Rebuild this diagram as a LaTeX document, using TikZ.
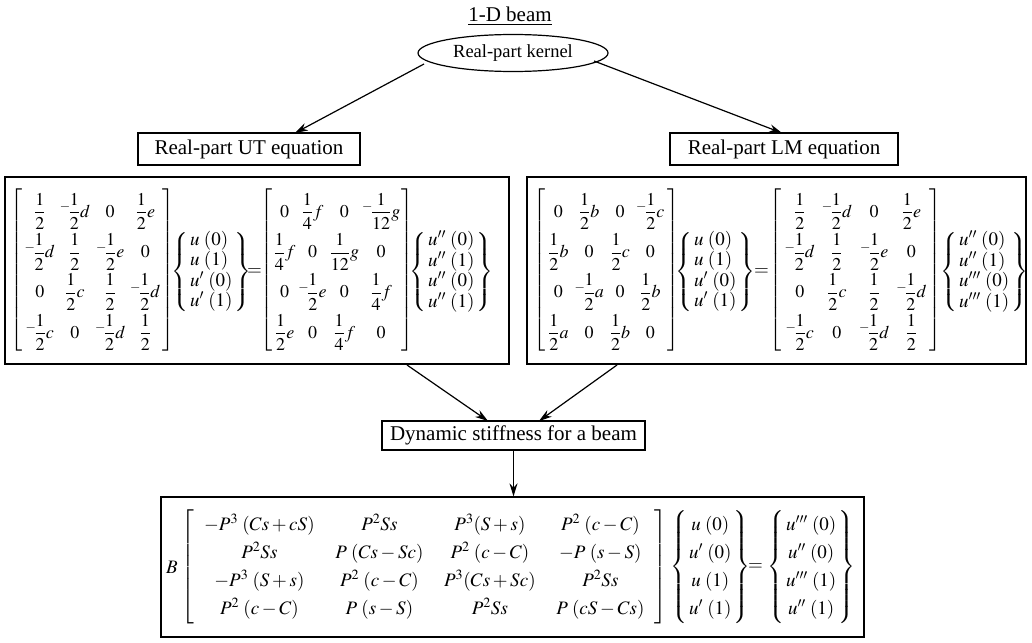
\documentclass[tikz,border=0pt]{standalone}
\usepackage{amsmath}
\usepackage{mathptmx}
\usepackage{fontspec}
\setmainfont{Liberation Serif}
\usetikzlibrary{arrows.meta,shapes.geometric}
\newcommand{\hf}{\dfrac{1}{2}}
\newcommand{\nh}{{}^{-}\!\dfrac{1}{2}}
\newcommand{\qf}{\dfrac{1}{4}}
\newcommand{\tw}{\dfrac{1}{12}}
\newcommand{\gp}{\;}
\tikzset{
 lbl/.style={draw, line width=1.2pt, inner sep=3pt, font=\fontsize{21}{24}\selectfont},
 bigbox/.style={draw, line width=1.2pt, inner sep=0pt},
 mat/.style={inner sep=0pt, anchor=west, font=\fontsize{18}{21.6}\selectfont},
 vec/.style={inner sep=0pt, anchor=west, font=\fontsize{19}{20}\selectfont},
 bmat/.style={inner sep=0pt, anchor=west, font=\fontsize{19}{22}\selectfont},
 arr/.style={-{Stealth[length=13pt,width=8pt]}, line width=1.2pt},
}
\begin{document}
\begin{tikzpicture}[x=1pt,y=-1pt]
\useasboundingbox[fill=white] (0,0) rectangle (1032,642);
\node[font=\fontsize{21}{24}\selectfont, inner sep=0pt] (title) at (510,16) {\underline{1-D beam}};
\node[lbl, ellipse, minimum width=190pt, minimum height=37pt, inner sep=0pt, font=\fontsize{18.5}{22}\selectfont] (kern) at (513,53) {Real-part kernel};
\node[lbl, minimum width=222pt, minimum height=32pt] (ut) at (249,149) {Real-part UT equation};
\node[lbl, minimum width=228pt, minimum height=32pt] (lm) at (784,149) {Real-part LM equation};
\node[bigbox, minimum width=504pt, minimum height=187pt] (utbox) at (257,270.5) {};
\node[bigbox, minimum width=499pt, minimum height=187pt] (lmbox) at (776.5,270.5) {};
\node[lbl, minimum width=263pt, minimum height=29pt] (dyn) at (513.5,435.5) {Dynamic stiffness for a beam};
\node[bigbox, minimum width=703pt, minimum height=140pt] (bot) at (512.5,567) {};
% connectors
\coordinate (k1) at (424,64);
\coordinate (k2) at (594,61);
\coordinate (t1) at (295,133);
\coordinate (t2) at (782,133);
\coordinate (u1) at (407,365);
\coordinate (l1) at (617,365);
\coordinate (d1) at (488,421);
\coordinate (d2) at (539,421);
\draw[arr] (k1) -- (t1);
\draw[arr] (k2) -- (t2);
\draw[arr] (u1) -- (d1);
\draw[arr] (l1) -- (d2);
\draw[arr] (dyn.south) -- (dyn.south |- bot.north);
% UT equation
\node[mat] (m1) at (10,270) {\renewcommand{\arraystretch}{1.85}\setlength{\arraycolsep}{2.5pt}$\left[\begin{array}{cccc}
\hf & \nh d & 0 & \hf e\\
\nh d & \hf & \nh e & 0\\
0 & \hf c & \hf & \nh d\\
\nh c & 0 & \nh d & \hf
\end{array}\right]$};
\node[vec] (v1) at (171,272) {$\left\{\begin{array}{@{\,}l@{\,}}u\gp(0)\\u\gp(1)\\u'\gp(0)\\u'\gp(1)\end{array}\right\}$};
\node[vec] (e1) at (247,272) {$=$};
\node[mat] (m2) at (260,270) {\renewcommand{\arraystretch}{1.85}\setlength{\arraycolsep}{1.5pt}$\left[\begin{array}{cccc}
0 & \qf f & 0 & {}^{-}\!\tw g\\
\qf f & 0 & \tw g & 0\\
0 & \nh e & 0 & \qf f\\
\hf e & 0 & \qf f & 0
\end{array}\right]$};
\node[vec] (v2) at (409,272) {$\left\{\begin{array}{@{\,}l@{\,}}u''\gp(0)\\u''\gp(1)\\u''\gp(0)\\u''\gp(1)\end{array}\right\}$};
% LM equation
\node[mat] (m3) at (533,270) {\renewcommand{\arraystretch}{1.85}\setlength{\arraycolsep}{3pt}$\left[\begin{array}{cccc}
0 & \hf b & 0 & \nh c\\
\hf b & 0 & \hf c & 0\\
0 & \nh a & 0 & \hf b\\
\hf a & 0 & \hf b & 0
\end{array}\right]$};
\node[vec] (v3) at (675,272) {$\left\{\begin{array}{@{\,}l@{\,}}u\gp(0)\\u\gp(1)\\u'\gp(0)\\u'\gp(1)\end{array}\right\}$};
\node[vec] (e2) at (754,272) {$=$};
\node[mat] (m4) at (769,270) {\renewcommand{\arraystretch}{1.85}\setlength{\arraycolsep}{3.5pt}$\left[\begin{array}{cccc}
\hf & \nh d & 0 & \hf e\\
\nh d & \hf & \nh e & 0\\
0 & \hf c & \hf & \nh d\\
\nh c & 0 & \nh d & \hf
\end{array}\right]$};
\node[vec] (v4) at (940,272) {$\left\{\begin{array}{@{\,}l@{\,}}u''\gp(0)\\u''\gp(1)\\u'''\gp(0)\\u'''\gp(1)\end{array}\right\}$};
% bottom equation
\node[bmat] (bB) at (166,567) {$B$};
\node[bmat] (m5) at (181,567) {\renewcommand{\arraystretch}{1.27}\setlength{\arraycolsep}{10.3pt}$\left[\begin{array}{cccc}
-P^3\gp(Cs+cS) & P^2Ss & P^3(S+s) & P^2\gp(c-C)\\
P^2Ss & P\gp(Cs-Sc) & P^2\gp(c-C) & -P\gp(s-S)\\
-P^3\gp(S+s) & P^2\gp(c-C) & P^3(Cs+Sc) & P^2Ss\\
P^2\gp(c-C) & P\gp(s-S) & P^2Ss & P\gp(cS-Cs)
\end{array}\right]$};
\node[bmat] (v5) at (670,567) {\renewcommand{\arraystretch}{1.27}$\left\{\begin{array}{@{\,}c@{\,}}u\gp(0)\\u'\gp(0)\\u\gp(1)\\u'\gp(1)\end{array}\right\}$};
\node[bmat] (e3) at (748,567) {$=$};
\node[bmat] (v6) at (767,567) {\renewcommand{\arraystretch}{1.27}$\left\{\begin{array}{@{\,}c@{\,}}u'''\gp(0)\\u''\gp(0)\\u'''\gp(1)\\u''\gp(1)\end{array}\right\}$};
\end{tikzpicture}
\end{document}
